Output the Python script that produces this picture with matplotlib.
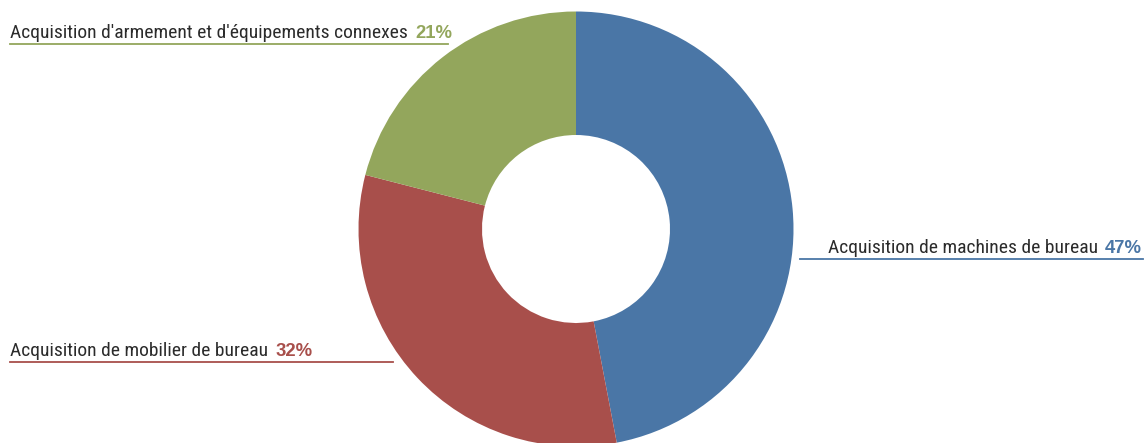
import matplotlib
matplotlib.use("Agg")
import matplotlib.pyplot as plt

# données du graphique
labels = ["Acquisition de machines de bureau",
          "Acquisition de mobilier de bureau",
          "Acquisition d'armement et d'équipements connexes"]
values = [47, 32, 21]
colors = ["#4a76a6", "#a84f4b", "#93a65c"]

W, H = 1145, 443
fig = plt.figure(figsize=(W / 100, H / 100), dpi=100)
ax = fig.add_axes([0, 0, 1, 1])

cx, cy, r = 576, H - 229, 217.5
ax.pie(values, colors=colors, startangle=90, counterclock=False,
       center=(cx, cy), radius=r, frame=True,
       wedgeprops=dict(width=r - 94, edgecolor="none"))
ax.set_xlim(0, W)
ax.set_ylim(0, H)
ax.set_aspect("auto")
ax.axis("off")

font = ["Roboto Condensed", "DejaVu Sans"]
pct_font = ["Liberation Sans", "DejaVu Sans"]
# (x texte, y ligne, x début ligne, x fin ligne) en pixels
spots = [(828, 259, 800, 1143), (10, 362, 10, 393), (10, 44, 10, 448)]

fig.canvas.draw()
rend = fig.canvas.get_renderer()

# taille de police réglée pour que le libellé vert fasse ~395 px
probe = ax.text(0, 0, labels[2], fontsize=12, family=font)
fs = 12 * 395 / probe.get_window_extent(rend).width
probe.remove()

for lab, val, col, (tx, ly, x0, x1) in zip(labels, values, colors, spots):
    t = ax.text(tx, H - ly + 6, lab, fontsize=fs, family=font,
                color="#2b2b2b", ha="left", va="baseline")
    bb = t.get_window_extent(rend)
    ax.text(bb.x1 + 7, H - ly + 6, f"{val}%", fontsize=13.3, family=pct_font,
            color=col, fontweight="bold", ha="left", va="baseline")
    ax.plot([x0, x1], [H - ly, H - ly], color=col, lw=1.3)

fig.savefig("out.png", dpi=100)
